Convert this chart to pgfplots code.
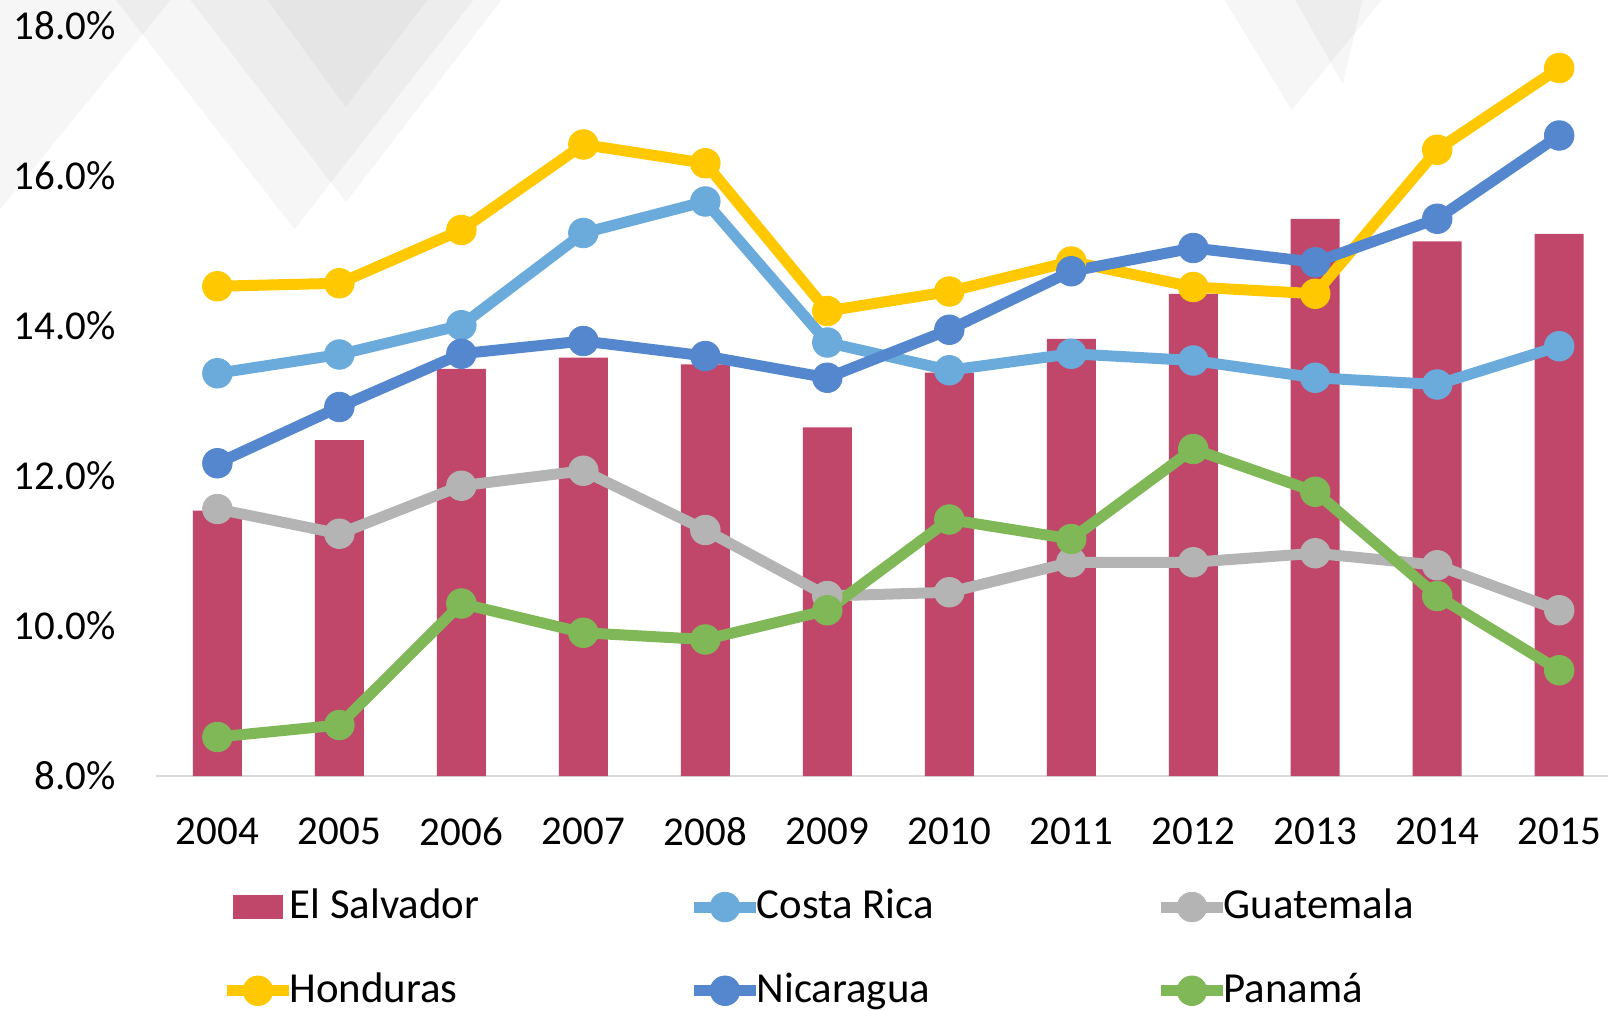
\documentclass[border=0pt]{standalone}
\usepackage{pgfplots}
\pgfplotsset{compat=1.18}
\usepackage{pgfplotstable}
\usepackage{fontspec}
\setmainfont{Carlito}
\usetikzlibrary{calc}

\definecolor{salvador}{HTML}{C0476A}
\definecolor{costarica}{HTML}{6BABDB}
\definecolor{guatemala}{HTML}{B4B4B4}
\definecolor{honduras}{HTML}{FFC800}
\definecolor{nicaragua}{HTML}{5587CF}
\definecolor{panama}{HTML}{80B858}

% x: 0 = 2004 ... 11 = 2015
\pgfplotstableread{
x  sv    cr    gt    hn    ni    pa
0  11.54 13.37 11.56 14.53 12.17 8.52
1  12.48 13.62 11.23 14.57 12.92 8.68
2  13.43 14.01 11.87 15.28 13.63 10.30
3  13.58 15.24 12.07 16.42 13.80 9.91
4  13.49 15.66 11.28 16.17 13.60 9.82
5  12.65 13.78 10.40 14.20 13.31 10.21
6  13.38 13.41 10.45 14.46 13.95 11.42
7  13.83 13.63 10.85 14.86 14.73 11.16
8  14.43 13.54 10.85 14.52 15.04 12.36
9  15.43 13.31 10.97 14.43 14.85 11.79
10 15.13 13.22 10.81 16.35 15.43 10.40
11 15.23 13.73 10.21 17.44 16.54 9.41
}\datos

\pgfplotsset{
  serie/.style={draw=#1, line width=2.75pt, line join=round,
    mark=*, mark size=3.7pt, mark options={fill=#1, draw=#1, line width=0.2pt, solid},
    legend image code/.code={\draw[mark repeat=2,mark phase=2,##1]
      plot coordinates {(0pt,0pt) (7.75pt,0pt) (15.5pt,0pt)};}},
}
\newcommand{\entrada}[1]{\addlegendentry{\makebox[50pt][l]{#1}}}

\begin{document}
\begin{tikzpicture}
% faint background triangles
\begin{scope}[black, opacity=0.035]
  \fill (-14.85pt,200pt) -- (83.9pt,200pt) -- (34.55pt,136.7pt) -- cycle;
  \fill (-120pt,200pt) -- (8.4pt,200pt) -- (-52.85pt,124.75pt) -- cycle;
  \fill (23.4pt,200pt) -- (72.4pt,200pt) -- (47.3pt,167.3pt) -- cycle;
  \fill (3.9pt,200pt) -- (90.9pt,200pt) -- (47.4pt,143.5pt) -- cycle;
  \fill (263.4pt,200pt) -- (311.3pt,200pt) -- (283.8pt,166.5pt) -- cycle;
  \fill (281.3pt,200pt) -- (302.9pt,200pt) -- (296.6pt,173pt) -- cycle;
\end{scope}
\begin{axis}[
    scale only axis,
    width=362.9pt, height=187.5pt,
    xmin=-0.5, xmax=11.4,
    ymin=8, ymax=18,
    axis x line*=bottom, axis y line*=left,
    y axis line style={draw=none},
    x axis line style={draw=black!15, line width=0.5pt, -},
    tick style={draw=none},
    xtick={0,...,11},
    xticklabels={2004,2005,2006,2007,2008,2009,2010,2011,2012,2013,2014,2015},
    ytick={8,10,...,18},
    yticklabels={8.0\%,10.0\%,12.0\%,14.0\%,16.0\%,18.0\%},
    tick label style={font=\fontsize{10.25}{12.3}\selectfont},
    yticklabel style={xshift=-6.7pt},
    xticklabel style={yshift=-6.85pt},
    legend columns=3,
    legend cell align=left,
    legend style={draw=none, fill=none, inner sep=0pt,
      at={(axis description cs:0.0443,-0.1445)}, anchor=north west,
      font=\fontsize{10.7}{12.8}\selectfont,
      nodes={inner sep=1pt},
      row sep=10pt,
      /tikz/every odd column/.append style={column sep=-2.2pt},
      /tikz/every even column/.append style={column sep=48.7pt}},
]
\addplot[ybar, bar width=12.25pt, fill=salvador, draw=none,
  legend image code/.code={\path (0pt,0pt) (15.5pt,0pt);
    \fill[salvador] (1.5pt,-3pt) rectangle (14pt,3pt);}]
  table[x=x, y=sv] {\datos};
\entrada{El Salvador}
\addplot[serie=costarica] table[x=x, y=cr] {\datos};
\entrada{Costa Rica}
\addplot[serie=guatemala] table[x=x, y=gt] {\datos};
\entrada{Guatemala}
\addplot[serie=honduras] table[x=x, y=hn] {\datos};
\entrada{Honduras}
\addplot[serie=nicaragua] table[x=x, y=ni] {\datos};
\entrada{Nicaragua}
\addplot[serie=panama] table[x=x, y=pa] {\datos};
\entrada{Panamá}
\end{axis}
\pgfresetboundingbox
\path[use as bounding box] ($(current axis.south west)+(-39.1pt,-58.25pt)$)
  rectangle ($(current axis.north east)+(0pt,6.5pt)$);
\end{tikzpicture}
\end{document}
